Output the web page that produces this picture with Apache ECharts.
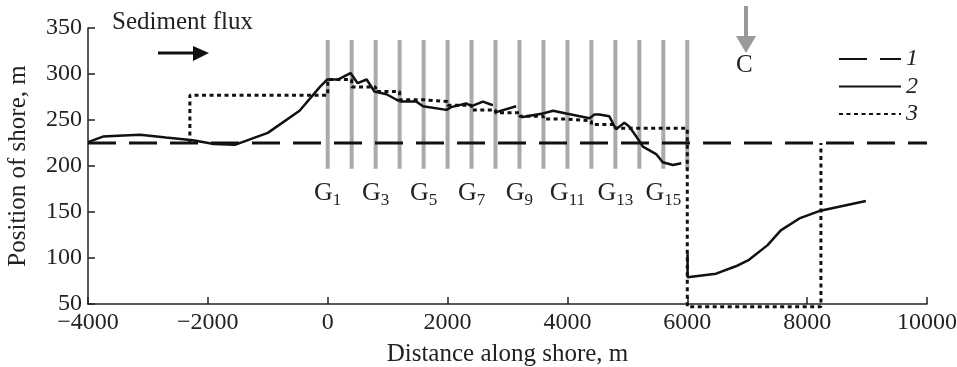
<!DOCTYPE html>
<html>
<head>
<meta charset="utf-8">
<script src="https://cdn.jsdelivr.net/npm/echarts/dist/echarts.min.js"></script>
<style>
  html, body { margin: 0; padding: 0; background: #fff; }
  #chart { width: 957px; height: 367px; }
</style>
</head>
<body>
<div id="chart"></div>
<script>
// Position of the undisturbed shoreline (line 1)
const shoreInitial = [[-4000, 225], [10000, 225]]

// Measured shoreline (line 2), '-' marks a break
const shoreMeasured = [
  [-4000, 226], [-3750, 232], [-3500, 233], [-3130, 234], [-2700, 231], [-2250, 228],
  [-1900, 224], [-1550, 223], [-1000, 236], [-470, 260], [-130, 286], [-10, 294],
  [170, 294], [380, 301], [500, 290], [650, 294], [780, 281], [980, 278], [1150, 272],
  [1230, 270], [1480, 270], [1590, 265], [1980, 261], [2060, 264], [2310, 268], [2400, 265],
  [2590, 270], [2755, 266], [2770, '-'], [2785, 258], [3145, 265], [3180, '-'], [3230, 253],
  [3590, 257], [3760, 260], [3980, 257], [4370, 252], [4450, 256], [4530, 256], [4700, 254],
  [4810, 240], [4950, 247], [5030, 243], [5150, 232], [5260, 221], [5480, 213], [5590, 204],
  [5760, 201], [5900, 203], [5950, '-'], [6005, 105], [6005, 79], [6480, 83], [6810, 91],
  [7030, 98], [7340, 114], [7560, 130], [7870, 143], [8200, 151], [8980, 162]
]

// Calculated shoreline (line 3)
const shoreCalc = [
  [-2300, 225], [-2300, 277], [0, 277], [0, 294], [400, 294], [400, 286], [800, 286],
  [800, 281], [1200, 281], [1200, 272], [1600, 272], [1600, 270], [2000, 270], [2000, 266],
  [2400, 266], [2400, 261], [2800, 261], [2800, 258], [3200, 258], [3200, 254], [3600, 254],
  [3600, 251], [4000, 251], [4000, 249], [4400, 249], [4400, 245], [4800, 245], [4800, 241],
  [6000, 241], [6000, 47], [8230, 47], [8230, 225]
]

// Groynes G1..G16
const groyneX = [0, 400, 800, 1200, 1600, 2000, 2400, 2800, 3200, 3600, 4000, 4400, 4800, 5200, 5600, 6000]
const groyneBottom = 197
const groyneTop = 337
const groyneLabelX = [0, 800, 1600, 2400, 3200, 4000, 4800, 5600]
const groyneLabelNum = ['1', '3', '5', '7', '9', '11', '13', '15']
const groyneLabelY = 170

const serif = 'Liberation Serif'

const chart = echarts.init(document.getElementById('chart'))

const option = {
  animation: false,
  grid: { left: 88, right: 30, top: 28, bottom: 63, outerBoundsMode: 'none' },
  xAxis: {
    type: 'value',
    min: -4000,
    max: 10000,
    interval: 2000,
    name: 'Distance along shore, m',
    nameLocation: 'middle',
    nameGap: 38,
    nameTextStyle: { fontFamily: serif, fontSize: 25, color: '#222' },
    axisLine: { onZero: false, lineStyle: { color: '#222', width: 1.5 } },
    axisTick: { inside: true, length: 7, lineStyle: { color: '#222', width: 1.5 } },
    axisLabel: {
      fontFamily: serif, fontSize: 24, color: '#222', margin: 7,
      formatter: v => (v < 0 ? '\u2212' + Math.abs(v) : String(v))
    },
    splitLine: { show: false }
  },
  yAxis: {
    type: 'value',
    min: 50,
    max: 350,
    interval: 50,
    name: 'Position of shore, m',
    nameLocation: 'middle',
    nameGap: 57,
    nameTextStyle: { fontFamily: serif, fontSize: 25, color: '#222' },
    axisLine: { show: true, onZero: false, lineStyle: { color: '#222', width: 1.5 } },
    axisTick: { show: true, inside: true, length: 7, lineStyle: { color: '#222', width: 1.5 } },
    axisLabel: { fontFamily: serif, fontSize: 24, color: '#222', margin: 6 },
    splitLine: { show: false }
  },
  legend: {
    data: ['1', '2', '3'],
    orient: 'vertical',
    left: 833,
    top: 42,
    itemWidth: 62,
    itemHeight: 20,
    itemGap: 3.5,
    itemStyle: { opacity: 0 },
    textStyle: { fontFamily: serif, fontSize: 24, fontStyle: 'italic', color: '#222', lineHeight: 20 }
  },
  series: [
    {
      type: 'custom',
      name: 'groynes',
      silent: true,
      z: 1,
      encode: { x: 0, y: [1, 2] },
      data: groyneX.map(x => [x, groyneBottom, groyneTop]),
      renderItem: (params, api) => {
        const p1 = api.coord([api.value(0), api.value(1)])
        const p2 = api.coord([api.value(0), api.value(2)])
        return {
          type: 'line',
          shape: { x1: p1[0], y1: p1[1], x2: p2[0], y2: p2[1] },
          style: { stroke: '#aaaaaa', lineWidth: 4 }
        }
      }
    },
    {
      type: 'scatter',
      name: 'labels',
      silent: true,
      symbolSize: 0,
      itemStyle: { opacity: 1, color: '#222' },
      data: groyneLabelX.map((x, i) => [x, groyneLabelY, groyneLabelNum[i]]),
      label: {
        show: true,
        position: 'inside',
        color: '#222',
        textBorderWidth: 0,
        formatter: p => `{g|G}{s|${p.data[2]}}`,
        rich: {
          g: { fontFamily: serif, fontSize: 26, color: '#222', textBorderWidth: 0 },
          s: { fontFamily: serif, fontSize: 17, color: '#222', textBorderWidth: 0, padding: [13, 0, 0, 0] }
        }
      }
    },
    {
      type: 'line',
      name: '1',
      symbol: 'none',
      z: 3,
      data: shoreInitial,
      lineStyle: { color: '#111', width: 3, type: [28, 13] }
    },
    {
      type: 'line',
      name: '2',
      symbol: 'none',
      z: 4,
      connectNulls: false,
      data: shoreMeasured,
      lineStyle: { color: '#111', width: 2.5 }
    },
    {
      type: 'line',
      name: '3',
      symbol: 'none',
      z: 3,
      clip: false,
      data: shoreCalc,
      lineStyle: { color: '#111', width: 3, type: [4, 3.5] }
    }
  ],
  graphic: [
    {
      type: 'text',
      left: 112,
      top: 10,
      style: { text: 'Sediment flux', fontFamily: serif, fontSize: 25, fill: '#222' }
    },
    {
      type: 'line',
      shape: { x1: 158, y1: 53, x2: 196, y2: 53 },
      style: { stroke: '#111', lineWidth: 3 }
    },
    {
      type: 'polygon',
      shape: { points: [[193, 46], [209, 53], [193, 61]] },
      style: { fill: '#111' }
    },
    {
      type: 'line',
      shape: { x1: 746, y1: 6, x2: 746, y2: 38 },
      style: { stroke: '#999', lineWidth: 4 }
    },
    {
      type: 'polygon',
      shape: { points: [[736, 36], [756, 36], [746, 53]] },
      style: { fill: '#999' }
    },
    {
      type: 'text',
      left: 736,
      top: 53,
      style: { text: 'C', fontFamily: serif, fontSize: 25, fill: '#222' }
    }
  ]
}

chart.setOption(option)
</script>
</body>
</html>
